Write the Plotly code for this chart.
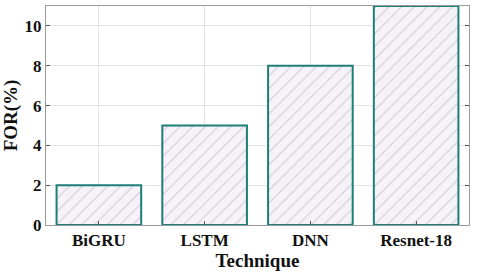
import plotly.graph_objects as go

techniques = ["BiGRU", "LSTM", "DNN", "Resnet-18"]
for_values = [2, 5, 8, 11]
y_ticks = [0, 2, 4, 6, 8, 10]

font_fam = "Liberation Serif, Times New Roman, serif"

fig = go.Figure()
fig.add_trace(go.Bar(
    x=techniques, y=for_values, width=0.8,
    marker=dict(
        color="#f6f2f7",
        line=dict(color="#1d7f7a", width=2),
        pattern=dict(shape="/", fgcolor="#a9a1b3", bgcolor="#f6f2f7", size=9, solidity=0.12),
    ),
))

fig.update_layout(
    width=480, height=272,
    margin=dict(l=46, r=11, t=6, b=47),
    paper_bgcolor="white", plot_bgcolor="white",
    showlegend=False,
    font=dict(family=font_fam, color="#111111"),
)
fig.update_xaxes(
    automargin=False,
    showgrid=True, gridcolor="#e3e3e3", gridwidth=1,
    showline=True, linecolor="#9a9a9a", mirror=True,
    ticks="inside", ticklen=4, tickcolor="#555555",
    tickfont=dict(size=17, family=font_fam, color="#111111", weight="bold"),
    title=dict(text="<b>Technique</b>", font=dict(size=19, family=font_fam), standoff=0),
)
fig.update_yaxes(
    automargin=False,
    range=[0, 11], tickvals=y_ticks,
    showgrid=True, gridcolor="#e3e3e3", gridwidth=1,
    showline=True, linecolor="#9a9a9a", mirror="ticks",
    ticks="inside", ticklen=4, tickcolor="#555555",
    tickfont=dict(size=17, family=font_fam, color="#111111", weight="bold"),
    title=dict(text="<b>FOR(%)</b>", font=dict(size=19, family=font_fam), standoff=6),
    zeroline=False,
)

fig.write_html(
    "out.html",
    config={"displayModeBar": False},
    post_script="document.body.style.margin='0';document.body.style.overflow='hidden';",
)
